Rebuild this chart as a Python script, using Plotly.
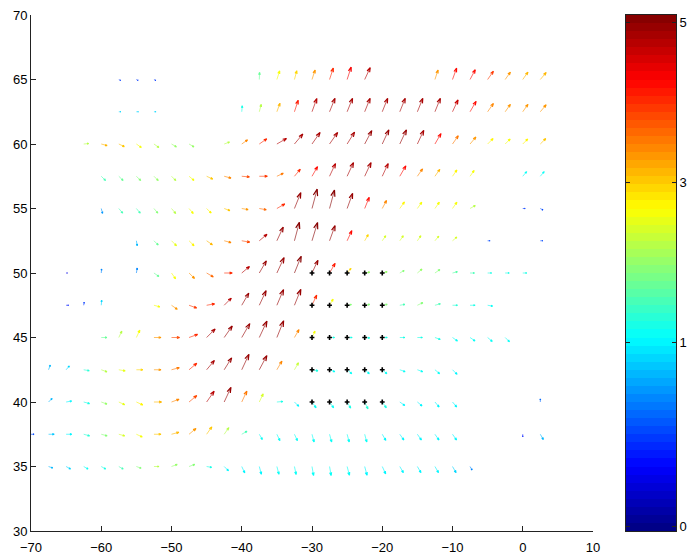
import math
import plotly.graph_objects as go

# ---------------- data ----------------
def grid(a, b):
    n = int(round((b - a) / 2.5)) + 1
    return [a + 2.5 * i for i in range(n)]

ROW_Y = [35, 37.5, 40, 42.5, 45, 47.5, 50, 52.5, 55, 57.5, 60, 62.5, 65]

ROW_X = [
    grid(-67.5, -7.5),
    [-70] + grid(-67.5, -10) + [0, 2.5],
    grid(-67.5, -10) + [2.5],
    grid(-67.5, -10),
    grid(-60, -2.5),
    [-65, -62.5, -60] + grid(-52.5, -5),
    [-65, -60, -55] + grid(-52.5, 0),
    grid(-55, -10) + [-5, 2.5],
    grid(-60, -7.5) + [0, 2.5],
    grid(-60, -7.5) + [0, 2.5],
    grid(-62.5, -47.5) + grid(-42.5, 2.5),
    [-57.5, -55, -52.5] + grid(-40, 2.5),
    [-57.5, -55, -52.5] + grid(-37.5, -22.5) + grid(-12.5, 2.5),
]

# colour value (position on the colour bar, 0..1)
ROW_C = [
    [0.30,0.33,0.38,0.40,0.45,0.50,0.55,0.52,0.50,0.40,0.37,0.37,0.37,0.38,0.38,0.38,0.38,0.38,0.37,0.37,0.37,0.36,0.36,0.34,0.25],
    [0.20,0.32,0.36,0.42,0.50,0.58,0.62,0.68,0.70,0.72,0.68,0.56,0.45,0.38,0.38,0.38,0.38,0.38,0.38,0.38,0.37,0.37,0.37,0.37,0.36,0.15,0.30],
    [0.30,0.36,0.40,0.52,0.60,0.64,0.70,0.74,0.80,0.94,0.97,0.76,0.58,0.40,0.37,0.38,0.38,0.40,0.42,0.40,0.37,0.37,0.37,0.36,0.22],
    [0.30,0.33,0.42,0.55,0.60,0.66,0.72,0.76,0.84,0.96,0.97,0.98,0.97,0.74,0.57,0.40,0.38,0.38,0.38,0.38,0.38,0.38,0.38,0.37],
    [0.48,0.56,0.62,0.72,0.80,0.84,0.96,0.97,0.97,0.98,0.98,0.74,0.62,0.40,0.40,0.40,0.40,0.40,0.40,0.40,0.39,0.39,0.39,0.38],
    [0.15,0.18,0.33,0.62,0.72,0.82,0.84,0.94,0.97,0.98,0.98,0.98,0.84,0.62,0.50,0.50,0.50,0.45,0.50,0.45,0.42,0.40,0.38],
    [0.10,0.25,0.25,0.48,0.62,0.72,0.78,0.84,0.94,0.97,0.98,0.99,0.97,0.85,0.66,0.52,0.52,0.50,0.52,0.50,0.46,0.44,0.40,0.40,0.40],
    [0.30,0.48,0.60,0.64,0.70,0.74,0.80,0.94,0.97,0.99,0.99,0.97,0.86,0.66,0.58,0.58,0.58,0.58,0.58,0.20,0.20],
    [0.28,0.45,0.45,0.50,0.56,0.62,0.64,0.68,0.72,0.78,0.84,0.98,0.99,0.99,0.97,0.86,0.74,0.64,0.62,0.62,0.62,0.56,0.18,0.20],
    [0.45,0.48,0.50,0.52,0.56,0.62,0.68,0.74,0.80,0.82,0.76,0.84,0.86,0.95,0.96,0.96,0.95,0.86,0.74,0.70,0.64,0.62,0.38,0.38],
    [0.56,0.70,0.68,0.62,0.56,0.52,0.52,0.56,0.74,0.84,0.95,0.96,0.96,0.96,0.96,0.97,0.97,0.97,0.96,0.86,0.76,0.72,0.64,0.62,0.64,0.68],
    [0.33,0.33,0.33,0.40,0.56,0.70,0.85,0.95,0.96,0.96,0.96,0.96,0.96,0.96,0.96,0.93,0.86,0.74,0.72,0.72,0.72],
    [0.18,0.18,0.18,0.48,0.62,0.66,0.72,0.84,0.88,0.95,0.72,0.86,0.86,0.82,0.72,0.70,0.70],
]

# vector magnitude
ROW_S = [
    [0.22,0.25,0.25,0.25,0.25,0.25,0.25,0.3,0.3,0.25,0.3,0.35,0.4,0.4,0.4,0.45,0.45,0.45,0.45,0.4,0.35,0.35,0.35,0.35,0.2],
    [0.15,0.28,0.28,0.3,0.3,0.3,0.32,0.35,0.38,0.45,0.45,0.4,0.3,0.3,0.35,0.35,0.4,0.4,0.4,0.4,0.35,0.35,0.35,0.35,0.35,0.12,0.3],
    [0.25,0.28,0.3,0.3,0.32,0.35,0.38,0.4,0.5,0.65,0.8,0.6,0.45,0.3,0.3,0.35,0.35,0.35,0.38,0.35,0.3,0.3,0.32,0.32,0.15],
    [0.25,0.25,0.28,0.3,0.32,0.32,0.35,0.4,0.5,0.6,0.7,0.85,0.8,0.5,0.4,0.3,0.28,0.3,0.3,0.3,0.28,0.28,0.3,0.32],
    [0.28,0.35,0.4,0.35,0.4,0.45,0.6,0.7,0.8,0.9,0.9,0.45,0.35,0.25,0.25,0.25,0.25,0.25,0.25,0.28,0.3,0.3,0.3,0.3],
    [0.12,0.15,0.25,0.3,0.35,0.4,0.4,0.5,0.7,0.8,0.85,0.85,0.55,0.35,0.22,0.25,0.25,0.25,0.3,0.28,0.25,0.25,0.25],
    [0.06,0.2,0.25,0.3,0.35,0.38,0.38,0.4,0.5,0.7,0.85,0.9,0.7,0.55,0.3,0.25,0.25,0.25,0.3,0.3,0.25,0.22,0.2,0.2,0.2],
    [0.25,0.3,0.35,0.35,0.35,0.35,0.4,0.5,0.75,0.95,0.95,0.8,0.55,0.35,0.3,0.3,0.3,0.3,0.28,0.12,0.12],
    [0.25,0.3,0.3,0.3,0.32,0.32,0.32,0.3,0.32,0.35,0.45,0.85,1.0,0.95,0.8,0.6,0.45,0.4,0.38,0.38,0.38,0.3,0.12,0.15],
    [0.3,0.3,0.3,0.3,0.3,0.32,0.33,0.35,0.38,0.4,0.35,0.45,0.55,0.7,0.75,0.75,0.7,0.6,0.45,0.42,0.38,0.35,0.3,0.3],
    [0.25,0.3,0.3,0.3,0.3,0.28,0.28,0.28,0.35,0.45,0.55,0.65,0.7,0.7,0.7,0.75,0.78,0.78,0.75,0.6,0.5,0.45,0.38,0.35,0.35,0.38],
    [0.1,0.1,0.1,0.3,0.38,0.45,0.6,0.7,0.72,0.72,0.72,0.72,0.72,0.72,0.72,0.65,0.6,0.5,0.45,0.45,0.45],
    [0.1,0.1,0.1,0.35,0.45,0.45,0.5,0.6,0.65,0.65,0.5,0.6,0.55,0.5,0.45,0.45,0.45],
]

# direction in degrees (0 = east, 90 = north)
ROW_A = [
    [-20,-30,-30,-30,-30,-20,0,20,20,-10,-45,-65,-75,-75,-78,-80,-80,-75,-75,-65,-60,-60,-60,-60,-60],
    [0,0,0,-15,-15,-15,-25,0,15,40,55,55,30,-60,-65,-65,-75,-75,-75,-75,-60,-55,-55,-55,-55,-90,-60],
    [45,10,-15,-20,-25,-25,0,20,40,55,65,65,65,5,-45,-55,-55,-60,-65,-55,-35,-40,-50,-50,90],
    [70,50,-10,-20,-10,0,0,15,40,50,58,65,62,60,60,-10,-20,-40,-40,-40,-20,-20,-40,-45],
    [0,65,65,0,0,20,45,55,60,65,68,60,65,0,0,-5,0,0,0,-20,-35,-35,-40,-45],
    [0,80,85,-15,-35,-20,10,45,60,65,67,68,65,60,10,10,10,10,25,15,0,0,-10],
    [0,85,80,-35,-55,-45,-30,0,40,60,65,68,65,60,50,10,15,30,40,35,15,0,0,0,0],
    [-80,-45,-45,-45,-35,-15,-10,40,65,75,73,70,65,60,55,55,55,50,40,0,0],
    [-75,-50,-50,-50,-50,-50,-45,-20,-10,-10,30,68,75,75,70,68,62,55,55,55,55,30,0,-30],
    [-45,-45,-45,-45,-45,-40,-25,-15,-5,0,25,50,60,65,65,65,65,60,55,55,55,55,50,50],
    [5,-15,-25,-35,-35,-30,-30,20,35,35,30,50,55,55,58,62,65,65,65,60,55,50,45,45,45,45],
    [0,0,0,85,75,70,72,70,68,68,68,68,68,68,68,65,60,55,55,55,50],
    [-30,-30,-30,88,72,75,72,72,72,65,72,70,62,55,55,55,50],
]

DOT_X = [-30, -27.5, -25, -22.5, -20]
DOT_Y = [40, 42.5, 45, 47.5, 50]

CBAR_TICKVALS = [0.008, 0.366, 0.676, 0.986]
CBAR_TICKTEXT = ["0", "1", "3", "5"]

# ---------------- layout geometry ----------------
W, H = 690, 554
ML, MR, MT, MB = 31, 14, 15, 23          # paper area spans x 31..676, y 15..531
AX_RIGHT = 593                             # right edge of the quiver axes (px)
CB_LEFT = 626                              # left edge of the colour bar (px)
PAPER_W = W - ML - MR
PW, PH = AX_RIGHT - ML, H - MT - MB
X0, X1, Y0, Y1 = -70, 10, 30, 70
PXX = PW / (X1 - X0)
PXY = PH / (Y1 - Y0)
ARROW_PX = 20.0
ALPHA, BETA = 0.33, 0.33


def jet(t):
    r = min(1, max(0, 1.5 - abs(4 * t - 3)))
    g = min(1, max(0, 1.5 - abs(4 * t - 2)))
    b = min(1, max(0, 1.5 - abs(4 * t - 1)))
    return "rgb(%d,%d,%d)" % (round(r * 255), round(g * 255), round(b * 255))

NB = 64
COLORS = [jet((i + 0.5) / NB) for i in range(NB)]
cscale = []
for i in range(NB):
    cscale.append([i / NB, COLORS[i]])
    cscale.append([(i + 1) / NB, COLORS[i]])

shafts, heads = {}, {}
for y, xs, cs, ss, aa in zip(ROW_Y, ROW_X, ROW_C, ROW_S, ROW_A):
    assert len(xs) == len(cs) == len(ss) == len(aa), (y, len(xs), len(cs), len(ss), len(aa))
    for x, c, s, a in zip(xs, cs, ss, aa):
        L = ARROW_PX * s
        u = L * math.cos(math.radians(a))
        v = L * math.sin(math.radians(a))
        b1 = (u - ALPHA * (u + BETA * v), v - ALPHA * (v - BETA * u))
        b2 = (u - ALPHA * (u - BETA * v), v - ALPHA * (v + BETA * u))
        ex, ey = x + u / PXX, y + v / PXY
        k = min(NB - 1, int(c * NB))
        sx, sy = shafts.setdefault(k, ([], []))
        sx += [x, ex, None]
        sy += [y, ey, None]
        hx, hy = heads.setdefault(k, ([], []))
        hx += [x + b1[0] / PXX, ex, x + b2[0] / PXX, None]
        hy += [y + b1[1] / PXY, ey, y + b2[1] / PXY, None]

fig = go.Figure()
for k in sorted(shafts):
    sx, sy = shafts[k]
    fig.add_trace(go.Scatter(x=sx, y=sy, mode="lines", opacity=0.6,
                             line=dict(color=COLORS[k], width=1),
                             hoverinfo="skip", showlegend=False))
for k in sorted(heads):
    hx, hy = heads[k]
    fig.add_trace(go.Scatter(x=hx, y=hy, mode="lines",
                             line=dict(color=COLORS[k], width=1.2),
                             hoverinfo="skip", showlegend=False))

dx, dy = [], []
for yy in DOT_Y:
    for xx in DOT_X:
        dx.append(xx)
        dy.append(yy)
fig.add_trace(go.Scatter(x=dx, y=dy, mode="markers",
                         marker=dict(color="black", size=4, symbol="cross",
                                     line=dict(width=0)),
                         hoverinfo="skip", showlegend=False))

# colour bar drawn as a 64-band heatmap on its own axes
band_y = [(i + 0.5) / NB for i in range(NB)]
fig.add_trace(go.Heatmap(
    x=[0.5], y=band_y, z=[[v] for v in band_y],
    zmin=0, zmax=1, colorscale=cscale, showscale=False,
    xaxis="x2", yaxis="y2", hoverinfo="skip"))

tickfont = dict(family="Liberation Sans", size=13, color="black")
axis_common = dict(showgrid=False, zeroline=False, showline=True, linecolor="#222",
                   linewidth=1, ticks="inside", ticklen=5, tickcolor="#222",
                   tickfont=tickfont, mirror=False, automargin=False)
fig.update_layout(
    template="none",
    width=W, height=H,
    margin=dict(l=ML, r=MR, t=MT, b=MB, pad=0),
    paper_bgcolor="white", plot_bgcolor="white",
    xaxis=dict(range=[X0, X1], tickvals=list(range(-70, 11, 10)),
               domain=[0, PW / PAPER_W], ticklabelstandoff=4, **axis_common),
    yaxis=dict(range=[Y0, Y1], tickvals=list(range(30, 71, 5)), **axis_common),
    xaxis2=dict(domain=[(CB_LEFT - ML) / PAPER_W, 1], range=[0, 1], anchor="y2",
                showgrid=False, zeroline=False, showticklabels=False, ticks="",
                showline=True, linecolor="#222", linewidth=1, mirror=True,
                automargin=False),
    yaxis2=dict(domain=[0, 1], range=[0, 1], anchor="x2", side="right",
                tickvals=CBAR_TICKVALS, ticktext=CBAR_TICKTEXT,
                showgrid=False, zeroline=False, showline=True, linecolor="#222",
                linewidth=1, mirror="ticks", ticks="inside", ticklen=4,
                tickcolor="#222", tickfont=tickfont, automargin=False),
    showlegend=False,
)
fig.write_html("out.html")
